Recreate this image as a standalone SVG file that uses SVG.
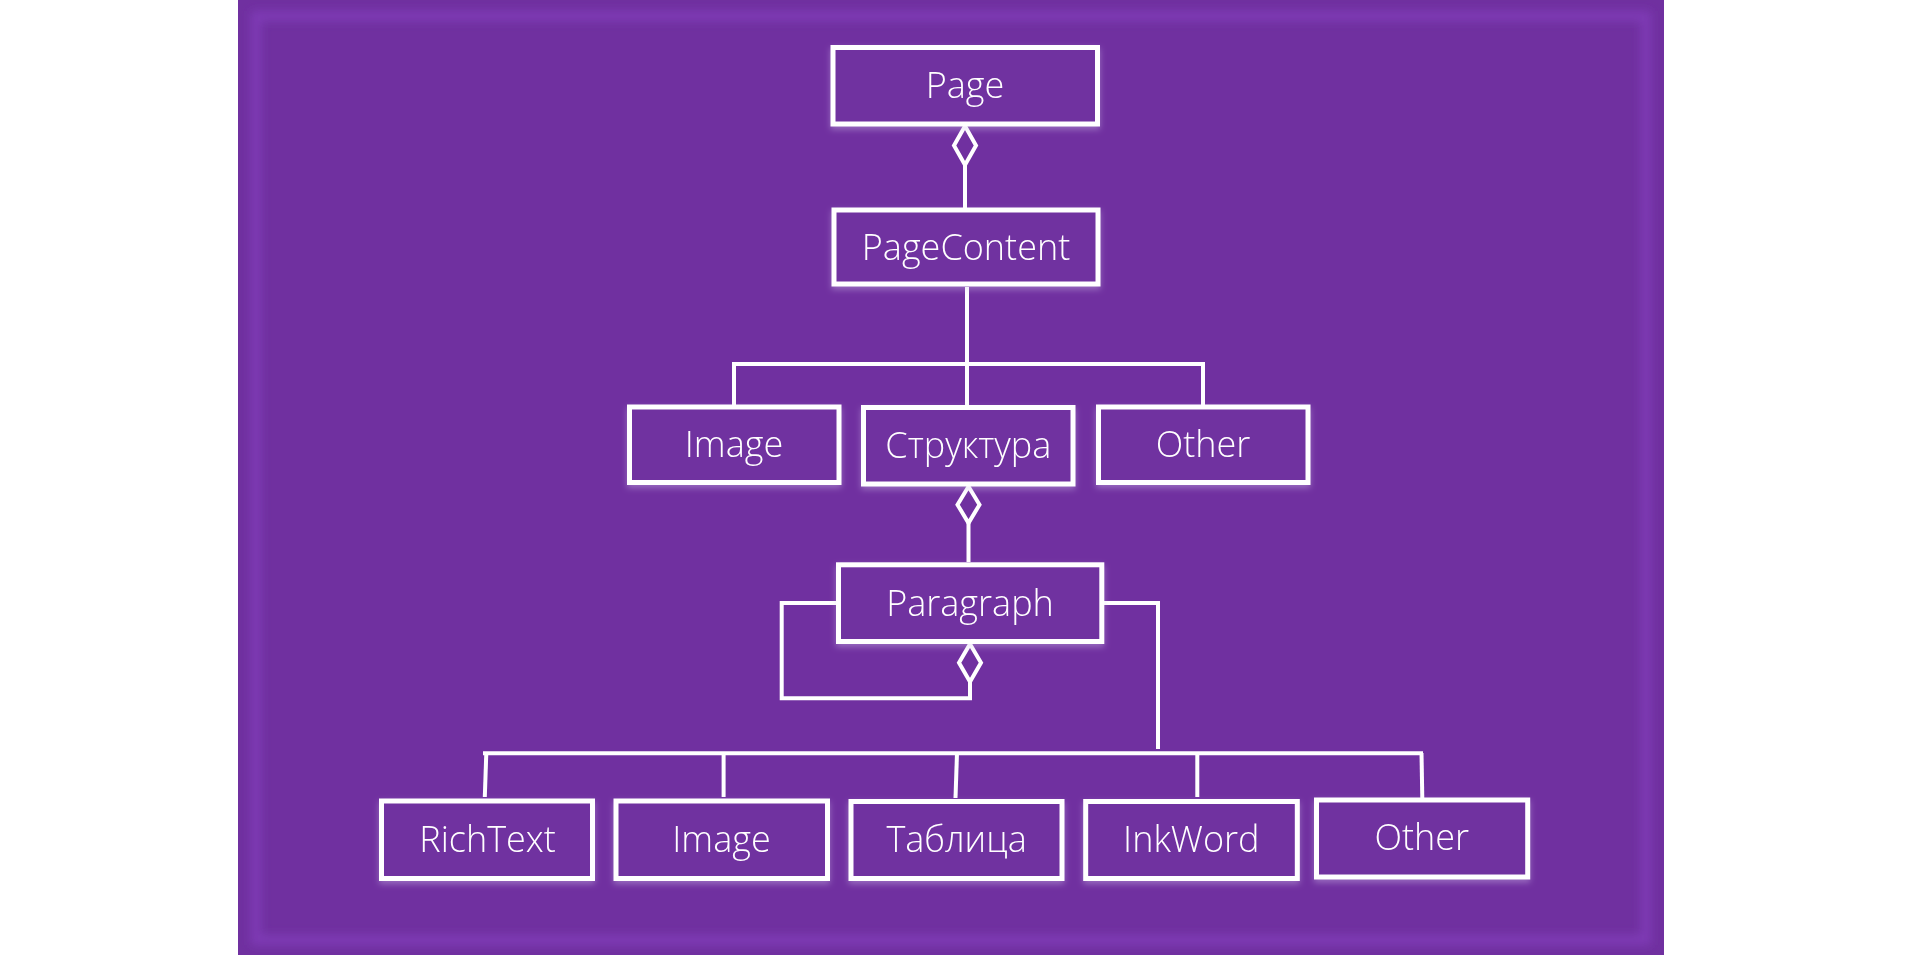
<svg xmlns="http://www.w3.org/2000/svg" width="1905" height="955" viewBox="0 0 1905 955">
  <style>
    .box { fill: #7030A0; stroke: #FFFFFF; stroke-width: 5; }
    .lbl { font-family: "Open Sans", "Noto Sans", "DejaVu Sans", sans-serif; font-weight: 350; font-size: 36px; fill: #FFFFFF; text-anchor: middle; }
    .ln { fill: none; stroke: #FFFFFF; stroke-width: 4; stroke-linejoin: miter; }
    .dia { fill: #7030A0; stroke: #FFFFFF; stroke-width: 4; }
  </style>
  <defs>
    <filter id="glow" x="-10%" y="-10%" width="120%" height="120%">
      <feGaussianBlur stdDeviation="5"/>
    </filter>
    <filter id="shadow" x="-10%" y="-20%" width="120%" height="150%">
      <feDropShadow dx="0" dy="3" stdDeviation="3" flood-color="#D8C8F0" flood-opacity="0.4"/>
    </filter>
  </defs>
  <rect x="0" y="0" width="1905" height="955" fill="#FFFFFF"/>
  <rect x="238" y="0" width="1426" height="955" fill="#7030A0"/>
  <rect x="256" y="16" width="1390" height="924" fill="none" stroke="#8A42C6" stroke-width="10" stroke-opacity="0.55" filter="url(#glow)"/>

  <g id="connectors">
    <polygon class="dia" points="965,126 976,145.5 965,165 954,145.5"/>
    <line class="ln" x1="965" y1="165" x2="965" y2="208"/>
    <line class="ln" x1="967" y1="287" x2="967" y2="364"/>
    <polyline class="ln" points="734,405 734,364 1203,364 1203,405"/>
    <line class="ln" x1="967" y1="364" x2="967" y2="405"/>
    <polygon class="dia" points="968.5,486.5 979.5,504.7 968.5,523 957.5,504.7"/>
    <line class="ln" x1="968.5" y1="523" x2="968.5" y2="562"/>
    <polyline class="ln" points="836,603 781.7,603 781.7,698.3 970,698.3 970,681.7"/>
    <polygon class="dia" points="970,644 981,662.8 970,681.7 959,662.8"/>
    <polyline class="ln" points="1104,603 1158,603 1158,749"/>
    <line class="ln" x1="483" y1="753.3" x2="1423" y2="753.3"/>
    <line class="ln" x1="486.3" y1="753" x2="484.8" y2="797"/>
    <line class="ln" x1="723.6" y1="753" x2="723.6" y2="797"/>
    <line class="ln" x1="957" y1="753" x2="955.5" y2="798"/>
    <line class="ln" x1="1197.3" y1="753" x2="1197.3" y2="797"/>
    <line class="ln" x1="1421.5" y1="753" x2="1422.3" y2="798"/>
  </g>

  <g id="page" filter="url(#shadow)">
    <rect class="box" x="833" y="47.5" width="264.5" height="76.5"/>
    <text class="lbl" x="965" y="97.5">Page</text>
  </g>
  <g id="pagecontent" filter="url(#shadow)">
    <rect class="box" x="834" y="210" width="264" height="74"/>
    <text class="lbl" x="966" y="259.5">PageContent</text>
  </g>
  <g id="image1" filter="url(#shadow)">
    <rect class="box" x="629.5" y="407" width="209.5" height="75.5"/>
    <text class="lbl" x="734" y="457">Image</text>
  </g>
  <g id="struktura" filter="url(#shadow)">
    <rect class="box" x="863.5" y="407.5" width="209.5" height="76.5"/>
    <text class="lbl" x="968.3" y="458">Структура</text>
  </g>
  <g id="other1" filter="url(#shadow)">
    <rect class="box" x="1098.5" y="407" width="209.5" height="75.5"/>
    <text class="lbl" x="1203" y="457">Other</text>
  </g>
  <g id="paragraph" filter="url(#shadow)">
    <rect class="box" x="838.5" y="564.8" width="263.3" height="76.7"/>
    <text class="lbl" x="970" y="615.5">Paragraph</text>
  </g>
  <g id="richtext" filter="url(#shadow)">
    <rect class="box" x="381.5" y="801" width="211" height="77.5"/>
    <text class="lbl" x="487.5" y="851.5">RichText</text>
  </g>
  <g id="image2" filter="url(#shadow)">
    <rect class="box" x="616" y="801" width="211.5" height="77.5"/>
    <text class="lbl" x="721.5" y="851.5">Image</text>
  </g>
  <g id="tablitsa" filter="url(#shadow)">
    <rect class="box" x="851" y="801.5" width="211" height="77"/>
    <text class="lbl" x="956.6" y="851.5">Таблица</text>
  </g>
  <g id="inkword" filter="url(#shadow)">
    <rect class="box" x="1085.7" y="801.5" width="211.6" height="77"/>
    <text class="lbl" x="1191.3" y="851.5">InkWord</text>
  </g>
  <g id="other2" filter="url(#shadow)">
    <rect class="box" x="1316.5" y="800" width="211.2" height="77"/>
    <text class="lbl" x="1421.8" y="849.5">Other</text>
  </g>
</svg>
